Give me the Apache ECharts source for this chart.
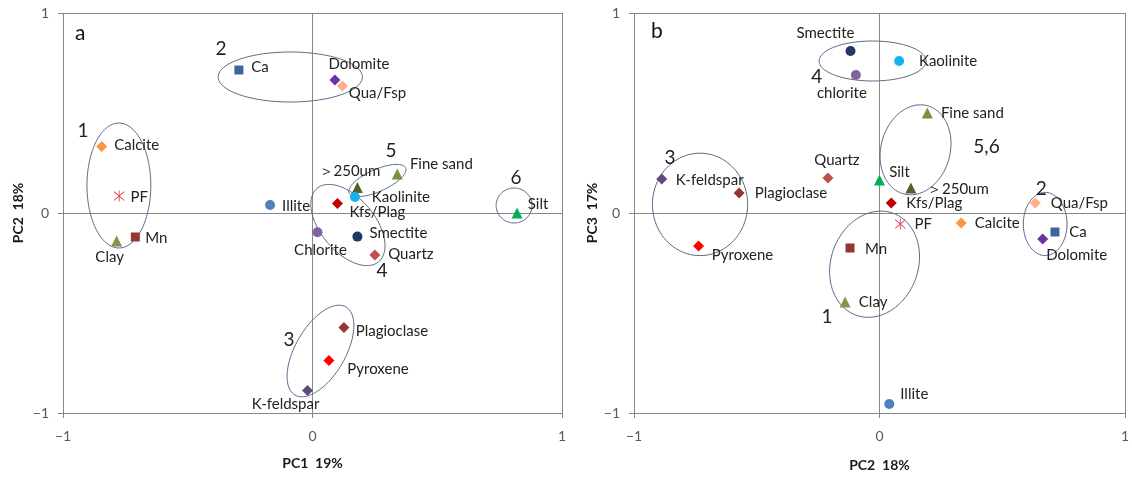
<!DOCTYPE html>
<html>
<head>
<meta charset="utf-8">
<script src="https://cdn.jsdelivr.net/npm/echarts@6/dist/echarts.min.js"></script>
<style>
  html, body { margin: 0; padding: 0; background: #ffffff; }
  #chart { width: 1132px; height: 477px; }
</style>
</head>
<body>
<div id="chart"></div>
<script>
// Loadings of each variable on the first three principal components
const variables = ['Ca', 'Dolomite', 'Qua/Fsp', 'Calcite', 'PF', 'Mn', 'Clay', 'Illite', '＞250um', 'Fine sand',
  'Kaolinite', 'Kfs/Plag', 'Chlorite', 'Smectite', 'Quartz', 'Silt', 'Plagioclase', 'Pyroxene', 'K-feldspar'];
const labelsB = ['Ca', 'Dolomite', 'Qua/Fsp', 'Calcite', 'PF', 'Mn', 'Clay', 'Illite', '＞250um', 'Fine sand',
  'Kaolinite', 'Kfs/Plag', 'chlorite', 'Smectite', 'Quartz', 'Silt', 'Plagioclase', 'Pyroxene', 'K-feldspar'];
const pc1 = [-0.295, 0.09, 0.12, -0.845, -0.775, -0.71, -0.785, -0.17, 0.18, 0.34,
  0.17, 0.10, 0.02, 0.18, 0.25, 0.82, 0.126, 0.066, -0.02];
const pc2 = [0.715, 0.665, 0.635, 0.333, 0.085, -0.12, -0.14, 0.04, 0.128, 0.195,
  0.08, 0.048, -0.096, -0.118, -0.21, 0.0, -0.572, -0.737, -0.887];
const pc3 = [-0.095, -0.13, 0.05, -0.05, -0.055, -0.175, -0.445, -0.955, 0.125, 0.50,
  0.76, 0.05, 0.69, 0.81, 0.175, 0.165, 0.10, -0.165, 0.17];
const axisTicks = [-1, 0, 1];

// Groups outlined in panel a (PC1 vs PC2): centre, semi-axes in axis units, tilt (deg), label anchor
const groupsA = ['1', '2', '3', '4', '5', '6'];
const groupCxA = [-0.776, -0.089, 0.032, 0.142, 0.26, 0.808];
const groupCyA = [0.1375, 0.68, -0.69, -0.06, 0.1625, 0.0375];
const groupRxA = [0.128, 0.289, 0.204, 0.192, 0.124, 0.072];
const groupRyA = [0.3125, 0.125, 0.125, 0.135, 0.055, 0.0875];
const groupTiltA = [0, 0, 60, -50, 24, 0];
const groupLxA = [-0.92, -0.367, -0.094, 0.279, 0.315, 0.816];
const groupLyA = [0.41, 0.82, -0.635, -0.29, 0.31, 0.175];

// Groups outlined in panel b (PC2 vs PC3)
const groupsB = ['1', '2', '3', '4', '5,6'];
const groupCxB = [-0.02, 0.675, -0.731, -0.028, 0.147];
const groupCyB = [-0.256, -0.055, 0.043, 0.76, 0.316];
const groupRxB = [0.221, 0.089, 0.194, 0.218, 0.186];
const groupRyB = [0.218, 0.158, 0.256, 0.1, 0.173];
const groupTiltB = [70, 0, 0, 0, 75];
const groupLxB = [-0.214, 0.659, -0.853, -0.255, 0.436];
const groupLyB = [-0.519, 0.123, 0.278, 0.68, 0.333];

// Marker appearance for each variable
const ASTERISK = 'path://M9.3 0L10.7 0L10.7 20L9.3 20Z M1.5 2.5L2.5 1.5L18.5 17.5L17.5 18.5Z M17.5 1.5L18.5 2.5L2.5 18.5L1.5 17.5Z';
const markers = {
  'Ca':         { symbol: 'rect',     color: '#3F649D', size: 9 },
  'Dolomite':   { symbol: 'diamond',  color: '#7030A0', size: 11 },
  'Qua/Fsp':    { symbol: 'diamond',  color: '#F9B08A', size: 11 },
  'Calcite':    { symbol: 'diamond',  color: '#F79646', size: 11 },
  'PF':         { symbol: ASTERISK,   color: '#E8434F', size: 11 },
  'Mn':         { symbol: 'rect',     color: '#953735', size: 9 },
  'Clay':       { symbol: 'triangle', color: '#8A9148', size: 11 },
  'Illite':     { symbol: 'circle',   color: '#4F81BD', size: 10 },
  '＞250um':     { symbol: 'triangle', color: '#4F6228', size: 11 },
  'Fine sand':  { symbol: 'triangle', color: '#77933C', size: 11 },
  'Kaolinite':  { symbol: 'circle',   color: '#16B4EE', size: 10 },
  'Kfs/Plag':   { symbol: 'diamond',  color: '#C00000', size: 11 },
  'Chlorite':   { symbol: 'circle',   color: '#8064A2', size: 10 },
  'Smectite':   { symbol: 'circle',   color: '#1F3864', size: 10 },
  'Quartz':     { symbol: 'diamond',  color: '#C0504D', size: 11 },
  'Silt':       { symbol: 'triangle', color: '#00B050', size: 11 },
  'Plagioclase':{ symbol: 'diamond',  color: '#943634', size: 11 },
  'Pyroxene':   { symbol: 'diamond',  color: '#FF0000', size: 11 },
  'K-feldspar': { symbol: 'diamond',  color: '#604A7B', size: 11 }
};

// Label centre offsets (px) from each marker
const offsetsA = {
  'Ca': [21, -3], 'Dolomite': [24, -16], 'Qua/Fsp': [35, 7], 'Calcite': [35, -1], 'PF': [20, 1],
  'Mn': [21, 1], 'Clay': [-7, 16], 'Illite': [26, 1], '＞250um': [-8, -16], 'Fine sand': [44, -10],
  'Kaolinite': [46, 0], 'Kfs/Plag': [40, 9], 'Chlorite': [3, 18], 'Smectite': [41, -3], 'Quartz': [36, -1],
  'Silt': [21, -9], 'Plagioclase': [48, 4], 'Pyroxene': [49, 9], 'K-feldspar': [-22, 14]
};
const offsetsB = {
  'Ca': [23, 0], 'Dolomite': [34, 16], 'Qua/Fsp': [44, 0], 'Calcite': [36, 0], 'PF': [23, 0],
  'Mn': [26, 1], 'Clay': [28, 0], 'Illite': [25, -10], '＞250um': [47, 1], 'Fine sand': [45, 0],
  'Kaolinite': [49, 0], 'Kfs/Plag': [43, 0], 'Chlorite': [-14, 18], 'Smectite': [-25, -18], 'Quartz': [9, -18],
  'Silt': [20, -8], 'Plagioclase': [52, 0], 'Pyroxene': [44, 9], 'K-feldspar': [48, 1]
};

const FONT = 'Lato, "Open Sans", sans-serif';
const GRID_COLOR = '#878787';
const RING_COLOR = '#5A6B8A';

function pointData(xs, ys, texts, offsets) {
  return variables.map((v, i) => {
    const m = markers[v];
    return {
      name: texts[i],
      value: [xs[i], ys[i]],
      symbol: m.symbol,
      symbolSize: m.size,
      itemStyle: { color: m.color, opacity: 1 },
      label: { offset: offsets[v] }
    };
  });
}

function groupData(cx, cy, rx, ry, tilt, lx, ly) {
  return cx.map((_, i) => [cx[i], cy[i], rx[i], ry[i], tilt[i], lx[i], ly[i]]);
}

// Draws an outlined ellipse around a group plus its number
function groupRenderer(names) {
  return function (params, api) {
    const c = api.coord([api.value(0), api.value(1)]);
    const s = api.size([1, 1]);
    const rx = api.value(2) * s[0];
    const ry = api.value(3) * s[1];
    const t = api.value(4) * Math.PI / 180;
    const pts = [];
    for (let k = 0; k <= 96; k++) {
      const a = k / 96 * 2 * Math.PI;
      const lx = rx * Math.cos(a), ly = ry * Math.sin(a);
      pts.push([c[0] + lx * Math.cos(t) - ly * Math.sin(t), c[1] - (lx * Math.sin(t) + ly * Math.cos(t))]);
    }
    const lp = api.coord([api.value(5), api.value(6)]);
    return {
      type: 'group',
      children: [
        { type: 'polyline', shape: { points: pts }, style: { stroke: RING_COLOR, lineWidth: 1, fill: null } },
        { type: 'text', x: lp[0], y: lp[1],
          style: { text: names[params.dataIndex], fill: '#222', font: '19px ' + FONT,
                   align: 'center', verticalAlign: 'middle' } }
      ]
    };
  };
}

function makeAxis(gridIndex, name, nameGap, isY) {
  return {
    type: 'value', gridIndex: gridIndex, min: -1, max: 1, interval: 1,
    axisLine: { show: false, onZero: false },
    axisTick: { show: true, length: 5, lineStyle: { color: GRID_COLOR } },
    splitLine: { show: true, lineStyle: { color: GRID_COLOR, width: 1 } },
    axisLabel: {
      color: '#595959', fontSize: 14, fontFamily: FONT, margin: isY ? 14 : 16,
      formatter: v => (axisTicks.indexOf(v) >= 0 ? (v < 0 ? '−' + Math.abs(v) : String(v)) : '')
    },
    name: name, nameLocation: 'middle', nameGap: nameGap,
    nameTextStyle: { color: '#1a1a1a', fontSize: 14, fontWeight: 'bold', fontFamily: FONT }
  };
}

const scatterLabel = {
  show: true, position: 'inside', formatter: '{b}',
  color: '#222', fontSize: 15, fontFamily: FONT, textBorderWidth: 0
};

const chart = echarts.init(document.getElementById('chart'), null, { renderer: 'canvas' });
chart.setOption({
  backgroundColor: '#ffffff',
  animation: false,
  grid: [
    { left: 63, top: 13, width: 499, height: 400 },
    { left: 634, top: 13, width: 495, height: 400 }
  ],
  xAxis: [makeAxis(0, 'PC1  19%', 43, false), makeAxis(1, 'PC2  18%', 45, false)],
  yAxis: [makeAxis(0, 'PC2  18%', 38, true), makeAxis(1, 'PC3  17%', 27, true)],
  graphic: [
    { type: 'text', left: 75, top: 23, style: { text: 'a', font: '21px ' + FONT, fill: '#111' } },
    { type: 'text', left: 651, top: 21, style: { text: 'b', font: '21px ' + FONT, fill: '#111' } }
  ],
  series: [
    { type: 'custom', xAxisIndex: 0, yAxisIndex: 0, z: 1, renderItem: groupRenderer(groupsA), silent: true,
      data: groupData(groupCxA, groupCyA, groupRxA, groupRyA, groupTiltA, groupLxA, groupLyA) },
    { type: 'custom', xAxisIndex: 1, yAxisIndex: 1, z: 1, renderItem: groupRenderer(groupsB), silent: true,
      data: groupData(groupCxB, groupCyB, groupRxB, groupRyB, groupTiltB, groupLxB, groupLyB) },
    { type: 'scatter', xAxisIndex: 0, yAxisIndex: 0, z: 3, silent: true, label: scatterLabel,
      data: pointData(pc1, pc2, variables, offsetsA) },
    { type: 'scatter', xAxisIndex: 1, yAxisIndex: 1, z: 3, silent: true, label: scatterLabel,
      data: pointData(pc2, pc3, labelsB, offsetsB) }
  ]
});
</script>
</body>
</html>
